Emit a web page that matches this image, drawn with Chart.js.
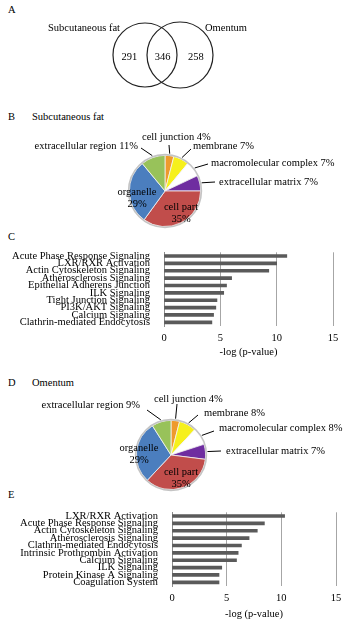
<!DOCTYPE html>
<html>
<head>
<meta charset="utf-8">
<script src="https://cdn.jsdelivr.net/npm/chart.js@4.4.1/dist/chart.umd.min.js"></script>
<style>
html, body { margin: 0; padding: 0; background: #fff; }
#page { position: relative; width: 352px; height: 631px; overflow: hidden;
        font-family: "Liberation Serif", serif; font-size: 10.5px; color: #000; }
.lbl { position: absolute; line-height: 12px; white-space: nowrap; }
.box { position: absolute; left: 0; width: 352px; }
</style>
</head>
<body>
<div id="page">
  <div class="lbl" style="left:8px;top:4px">A</div>
  <div class="lbl" style="left:8px;top:111px">B</div>
  <div class="lbl" style="left:32px;top:111px">Subcutaneous fat</div>
  <div class="lbl" style="left:8px;top:231px">C</div>
  <div class="lbl" style="left:8px;top:377px">D</div>
  <div class="lbl" style="left:32px;top:377px">Omentum</div>
  <div class="lbl" style="left:8px;top:489px">E</div>

  <div class="box" style="top:0;height:110px"><canvas id="venn" width="352" height="110"></canvas></div>
  <div class="box" style="top:128px;height:108px"><canvas id="pieSc" width="352" height="108"></canvas></div>
  <div class="box" style="top:240px;height:119px"><canvas id="barSc" width="352" height="119"></canvas></div>
  <div class="box" style="top:392px;height:108px"><canvas id="pieOm" width="352" height="108"></canvas></div>
  <div class="box" style="top:500px;height:121px"><canvas id="barOm" width="352" height="121"></canvas></div>
</div>

<script>
// Venn: proteins found in each depot
const vennSets = ['Subcutaneous fat', 'Omentum'];
const vennOnly = [291, 258];
const vennShared = 346;

// GO cellular component, percent of proteins
const goTerms = ['cell junction', 'membrane', 'macromolecular complex', 'extracellular matrix',
                 'cell part', 'organelle', 'extracellular region'];
const subcutPct = [4, 7, 7, 7, 35, 29, 11];
const omentumPct = [4, 8, 8, 7, 35, 29, 9];

// top canonical pathways, -log(p-value)
const subcutPathways = ['Acute Phase Response Signaling', 'LXR/RXR Activation', 'Actin Cytoskeleton Signaling',
  'Atherosclerosis Signaling', 'Epithelial Adherens Junction', 'ILK Signaling', 'Tight Junction Signaling',
  'PI3K/AKT Signaling', 'Calcium Signaling', 'Clathrin-mediated Endocytosis'];
const subcutLogP = [10.9, 10.0, 9.3, 6.0, 5.55, 5.3, 4.7, 4.6, 4.4, 4.25];

const omentumPathways = ['LXR/RXR Activation', 'Acute Phase Response Signaling', 'Actin Cytoskeleton Signaling',
  'Atherosclerosis Signaling', 'Clathrin-mediated Endocytosis', 'Intrinsic Prothrombin Activation',
  'Calcium Signaling', 'ILK Signaling', 'Protein Kinase A Signaling', 'Coagulation System'];
const omentumLogP = [10.3, 8.45, 7.8, 7.05, 6.35, 6.05, 5.9, 4.55, 4.3, 4.3];

const xTicks = [0, 5, 10, 15];

const FONT = '"Liberation Serif", serif';
const pieColors = ['#ee9a2d', '#f6f01c', '#ffffff', '#6f2da0', '#c14d4b', '#4b7ebe', '#98c25a'];

// ---------- Venn ----------
const vennText = {
  id: 'vennText',
  afterDatasetsDraw(chart) {
    const ctx = chart.ctx, xs = chart.scales.x, ys = chart.scales.y;
    const cy = ys.getPixelForValue(0);
    const x0 = xs.getPixelForValue(0), x1 = xs.getPixelForValue(1);
    ctx.save();
    ctx.font = '10.5px ' + FONT;
    ctx.fillStyle = '#000';
    ctx.textBaseline = 'middle';
    ctx.textAlign = 'center';
    ctx.fillText(vennOnly[0], xs.getPixelForValue(-0.45), cy + 2);
    ctx.fillText(vennShared, (x0 + x1) / 2, cy + 2);
    ctx.fillText(vennOnly[1], xs.getPixelForValue(1.45), cy + 2);
    ctx.textAlign = 'right';
    ctx.fillText(vennSets[0], x0 - 25, cy - 27);
    ctx.textAlign = 'left';
    ctx.fillText(vennSets[1], x1 + 25, cy - 27);
    ctx.restore();
  }
};

new Chart(document.getElementById('venn'), {
  type: 'bubble',
  data: {
    datasets: [{
      data: vennSets.map((s, i) => ({ x: i, y: 0 })),
      radius: ctx => ctx.dataIndex === 0 ? 32 : 33,
      backgroundColor: 'rgba(0,0,0,0)',
      borderColor: '#222',
      borderWidth: 1.2,
      clip: false
    }]
  },
  options: {
    responsive: false,
    animation: false,
    events: [],
    layout: { padding: { left: 145, right: 172, top: 26, bottom: 24 } },
    plugins: { legend: { display: false }, tooltip: { enabled: false } },
    scales: {
      x: { type: 'linear', min: 0, max: 1, display: false },
      y: { type: 'linear', min: -1, max: 1, display: false }
    }
  },
  plugins: [vennText]
});

// ---------- Pies ----------
const pieLabels = {
  id: 'pieLabels',
  afterDatasetsDraw(chart, args, opts) {
    const ctx = chart.ctx;
    const arcs = chart.getDatasetMeta(0).data;
    const values = chart.data.datasets[0].data;
    const cx = arcs[0].x, cy = arcs[0].y, r = arcs[0].outerRadius;
    ctx.save();
    // grey rim
    ctx.beginPath();
    ctx.arc(cx, cy, r + 0.8, 0, Math.PI * 2);
    ctx.strokeStyle = '#c4c4c4';
    ctx.lineWidth = 1.6;
    ctx.stroke();

    ctx.font = '10.5px ' + FONT;
    ctx.fillStyle = '#000';
    ctx.textBaseline = 'middle';
    opts.spots.forEach((s, i) => {
      const name = chart.data.labels[i];
      const pct = values[i] + '%';
      if (s.inside) {
        ctx.textAlign = 'center';
        ctx.fillText(name, cx + s.tx, cy + s.ty);
        ctx.fillText(pct, cx + s.tx, cy + s.ty + 12);
        return;
      }
      const a = (arcs[i].startAngle + arcs[i].endAngle) / 2;
      ctx.beginPath();
      ctx.moveTo(cx + Math.cos(a) * (r + 2), cy + Math.sin(a) * (r + 2));
      ctx.lineTo(cx + s.lx, cy + s.ly);
      ctx.strokeStyle = '#000';
      ctx.lineWidth = 1;
      ctx.stroke();
      ctx.textAlign = s.align;
      ctx.fillText(name + ' ' + pct, cx + s.tx, cy + s.ty);
    });
    ctx.restore();
  }
};

function makePie(id, values, pad, spots) {
  return new Chart(document.getElementById(id), {
    type: 'pie',
    data: {
      labels: goTerms,
      datasets: [{
        data: values,
        backgroundColor: pieColors,
        borderColor: '#f4f4f4',
        borderWidth: 0.8
      }]
    },
    options: {
      responsive: false,
      animation: false,
      events: [],
      rotation: 0,
      layout: { padding: pad },
      plugins: { legend: { display: false }, tooltip: { enabled: false }, pieLabels: { spots: spots } }
    },
    plugins: [pieLabels]
  });
}

makePie('pieSc', subcutPct, { left: 129, right: 151, top: 27, bottom: 9 }, [
  { tx: -23, ty: -54, align: 'left', lx: 4, ly: -46 },
  { tx: 28, ty: -45, align: 'left', lx: 26, ly: -42 },
  { tx: 46, ty: -28, align: 'left', lx: 43, ly: -27 },
  { tx: 54, ty: -9, align: 'left', lx: 50, ly: -9 },
  { inside: true, tx: 16, ty: 16 },
  { inside: true, tx: -28, ty: 1 },
  { tx: -27, ty: -45, align: 'right', lx: -24, ly: -43 }
]);

makePie('pieOm', omentumPct, { left: 136, right: 146, top: 28, bottom: 10 }, [
  { tx: -17, ty: -56, align: 'left', lx: 6, ly: -51 },
  { tx: 33, ty: -42, align: 'left', lx: 27, ly: -40 },
  { tx: 48, ty: -27, align: 'left', lx: 43, ly: -24 },
  { tx: 55, ty: -4, align: 'left', lx: 50, ly: -4 },
  { inside: true, tx: 10, ty: 17 },
  { inside: true, tx: -32, ty: -7 },
  { tx: -31, ty: -50, align: 'right', lx: -24, ly: -45 }
]);

// ---------- Bars ----------
function makeBar(id, labels, values, leftPx, pad, axisH) {
  return new Chart(document.getElementById(id), {
    type: 'bar',
    data: {
      labels: labels,
      datasets: [{ data: values, backgroundColor: '#5a5a5a', barThickness: 3 }]
    },
    options: {
      indexAxis: 'y',
      responsive: false,
      animation: false,
      events: [],
      layout: { padding: pad },
      plugins: { legend: { display: false }, tooltip: { enabled: false } },
      scales: {
        y: {
          grid: { display: false },
          border: { display: true, color: '#8c8c8c' },
          ticks: { autoSkip: false, padding: 6, color: '#000', font: { family: FONT, size: 10.5 } },
          afterFit(s) { s.width = leftPx; }
        },
        x: {
          min: xTicks[0],
          max: xTicks[xTicks.length - 1],
          ticks: { stepSize: xTicks[1] - xTicks[0], padding: 6, color: '#000', font: { family: FONT, size: 10.5 } },
          grid: { color: '#a6a6a6', drawTicks: false },
          border: { display: false },
          title: { display: true, text: '-log (p-value)', color: '#000', padding: 0, font: { family: FONT, size: 10.5 } },
          afterFit(s) { s.height = axisH; }
        }
      }
    }
  });
}

makeBar('barSc', subcutPathways, subcutLogP, 164, { top: 5, right: 19, left: 0, bottom: 0 }, 33);
makeBar('barOm', omentumPathways, omentumLogP, 172, { top: 3, right: 16, left: 0, bottom: 0 }, 35);
</script>
</body>
</html>
